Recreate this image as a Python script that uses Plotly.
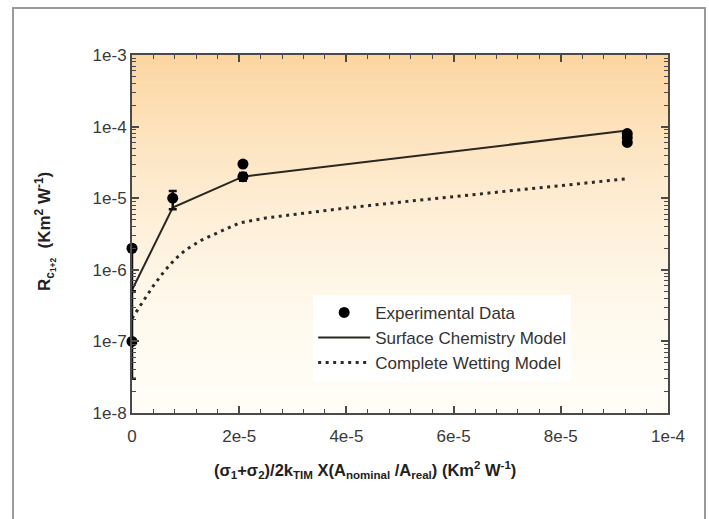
import plotly.graph_objects as go

# Experimental thermal contact resistance measurements
exp_x = [0.0, 0.0, 7.6e-6, 2.07e-5, 2.07e-5, 9.24e-5, 9.24e-5, 9.24e-5]
exp_y = [1.0e-7, 2.0e-6, 1.0e-5, 3.0e-5, 2.0e-5, 8.0e-5, 7.0e-5, 6.0e-5]
exp_err_plus = [4.0e-7, 0.0, 2.6e-6, 0.0, 2.5e-6, 0.0, 0.0, 0.0]
exp_err_minus = [7.0e-8, 1.5e-6, 3.0e-6, 0.0, 2.5e-6, 0.0, 0.0, 0.0]

# Surface chemistry model
scm_x = [0.0, 7.6e-6, 2.07e-5, 9.24e-5]
scm_y = [5.2e-7, 7.4e-6, 2.0e-5, 8.8e-5]

# Complete wetting model
cwm_x = [0.0, 2e-6, 4e-6, 6e-6, 8e-6, 1e-5, 1.3e-5, 1.6e-5, 2e-5, 2.5e-5,
         3e-5, 4e-5, 5e-5, 6e-5, 7e-5, 8e-5, 9.24e-5]
cwm_y = [2.1e-7, 3.6e-7, 6.0e-7, 9.5e-7, 1.4e-6, 1.9e-6, 2.6e-6, 3.3e-6, 4.5e-6, 5.3e-6,
         5.9e-6, 7.3e-6, 8.8e-6, 1.05e-5, 1.25e-5, 1.5e-5, 1.87e-5]

x_tickvals = [0, 2e-5, 4e-5, 6e-5, 8e-5, 1e-4]
x_ticktext = ["0", "2e-5", "4e-5", "6e-5", "8e-5", "1e-4"]
y_tickvals = [1e-8, 1e-7, 1e-6, 1e-5, 1e-4, 1e-3]
y_ticktext = ["1e-8", "1e-7", "1e-6", "1e-5", "1e-4", "1e-3"]

FONT = "Liberation Sans, Arial, sans-serif"
AXIS_COLOR = "#4a4a4a"

fig = go.Figure()

fig.add_trace(go.Scatter(
    x=cwm_x, y=cwm_y, mode="lines", name="Complete Wetting Model",
    line=dict(color="#2b2b2b", width=3, dash="3px,4.5px"),
    cliponaxis=False,
))
fig.add_trace(go.Scatter(
    x=scm_x, y=scm_y, mode="lines", name="Surface Chemistry Model",
    line=dict(color="#2a2620", width=2),
    cliponaxis=False,
))
fig.add_trace(go.Scatter(
    x=exp_x, y=exp_y, mode="markers", name="Experimental Data",
    marker=dict(color="black", size=11, symbol="circle"),
    error_y=dict(type="data", array=exp_err_plus, arrayminus=exp_err_minus,
                 symmetric=False, color="#111", thickness=2.5, width=4),
    cliponaxis=False,
))

# Warm vertical gradient behind the plotting area
shapes = []
n_bands = 90
top = (252, 213, 160)
bottom = (255, 253, 246)
for i in range(n_bands):
    t0 = i / n_bands
    t1 = (i + 1) / n_bands
    tm = ((t0 + t1) / 2) ** 1.7
    c = tuple(round(bottom[k] + (top[k] - bottom[k]) * tm) for k in range(3))
    shapes.append(dict(
        type="rect", xref="x domain", yref="y domain",
        x0=0, x1=1, y0=t0, y1=t1 + 0.002,
        fillcolor=f"rgb{c}", line=dict(width=0), layer="below",
    ))

# Outer frame around the figure
shapes.append(dict(
    type="rect", xref="paper", yref="paper",
    x0=(13 - 132) / 536, x1=(705 - 132) / 536,
    y0=-0.31, y1=(413 - 8) / 358,
    line=dict(color="#9a9a9a", width=2), fillcolor="rgba(0,0,0,0)", layer="below",
))

# Axis titles
annotations = [
    dict(
        text="(σ<sub>1</sub>+σ<sub>2</sub>)/2k<sub>TIM</sub> X(A<sub>nominal</sub> /A<sub>real</sub>) (Km<sup>2</sup> W<sup>-1</sup>)",
        xref="paper", yref="paper", x=(365 - 132) / 536, y=(413 - 470) / 358,
        xanchor="center", yanchor="middle", showarrow=False,
        font=dict(family=FONT, size=16.5, color="#222", weight="bold"),
    ),
    dict(
        text="R<sub>c<sub>1+2</sub></sub>  (Km<sup>2</sup> W<sup>-1</sup>)",
        xref="paper", yref="paper", x=(45 - 132) / 536, y=(413 - 232) / 358,
        xanchor="center", yanchor="middle", showarrow=False, textangle=-90,
        font=dict(family=FONT, size=17, color="#222", weight="bold"),
    ),
]

fig.update_layout(
    width=709, height=519,
    margin=dict(l=132, r=41, t=55, b=106),
    paper_bgcolor="white", plot_bgcolor="white",
    shapes=shapes, annotations=annotations,
    showlegend=True,
    legend=dict(
        x=0.338, y=0.33, xanchor="left", yanchor="top",
        bgcolor="white", borderwidth=0,
        font=dict(family=FONT, size=17, color="#333"),
        traceorder="reversed", itemwidth=52,
    ),
    font=dict(family=FONT, color="#333"),
)

fig.update_xaxes(
    range=[0, 1e-4], tickvals=x_tickvals, ticktext=x_ticktext,
    ticks="inside", ticklen=7, tickwidth=1.5, tickcolor=AXIS_COLOR,
    minor=dict(dtick=4e-6, tick0=0, ticks="inside", ticklen=4, tickcolor=AXIS_COLOR, tickwidth=1.2),
    showline=True, linecolor=AXIS_COLOR, linewidth=2, mirror="allticks",
    showgrid=False, zeroline=False, ticklabelstandoff=7,
    tickfont=dict(family=FONT, size=17, color="#3a3a3a"),
)
fig.update_yaxes(
    type="log", range=[-8, -3], tickvals=y_tickvals, ticktext=y_ticktext,
    ticks="inside", ticklen=7, tickwidth=1.5, tickcolor=AXIS_COLOR,
    minor=dict(dtick="D1", ticks="inside", ticklen=4, tickcolor=AXIS_COLOR, tickwidth=1.2, showgrid=False),
    showline=True, linecolor=AXIS_COLOR, linewidth=2, mirror="allticks",
    showgrid=False, zeroline=False,
    tickfont=dict(family=FONT, size=17, color="#3a3a3a"),
)

fig.write_html("out.html")
